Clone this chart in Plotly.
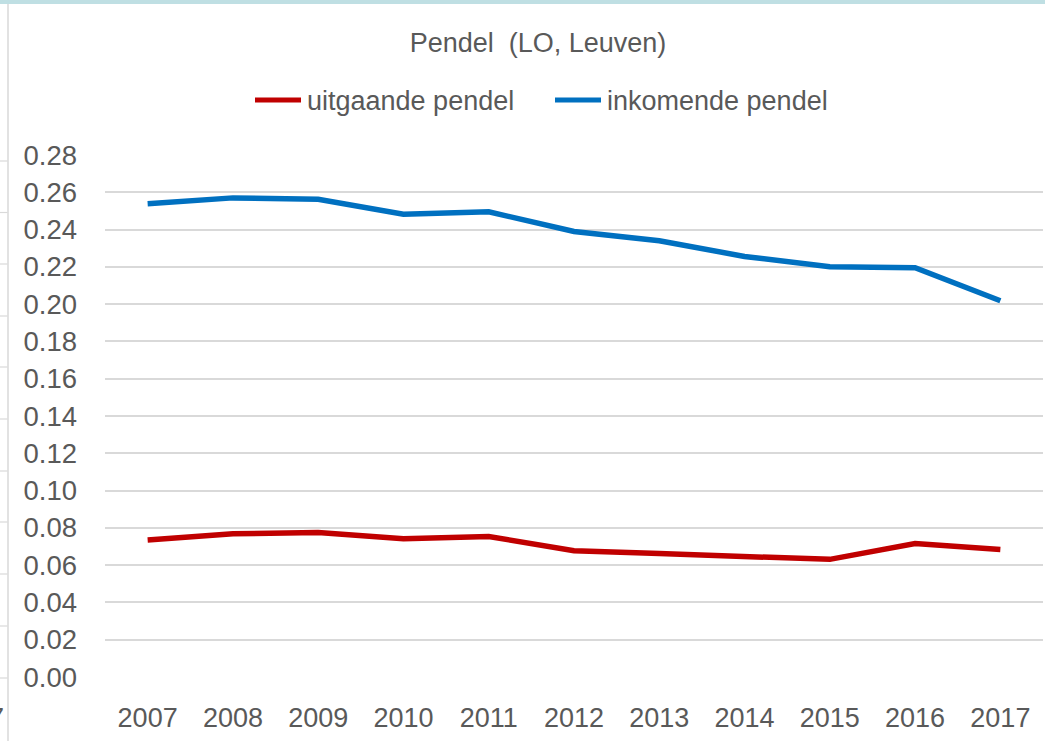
import plotly.graph_objects as go

years = ["2007", "2008", "2009", "2010", "2011", "2012", "2013", "2014", "2015", "2016", "2017"]
uitgaande = [0.0735, 0.0768, 0.0775, 0.0741, 0.0754, 0.0677, 0.0662, 0.0647, 0.0631, 0.0716, 0.0684]
inkomende = [0.2539, 0.2570, 0.2562, 0.2482, 0.2495, 0.2390, 0.2340, 0.2256, 0.2201, 0.2195, 0.2018]
y_ticks = [0.00, 0.02, 0.04, 0.06, 0.08, 0.10, 0.12, 0.14, 0.16, 0.18, 0.20, 0.22, 0.24, 0.26, 0.28]
series_names = ["uitgaande pendel", "inkomende pendel"]
series_colors = ["#C00000", "#0070C0"]

FONT = "Liberation Sans"
TXT = "#595959"
W, H = 1045, 741
L, R, T, B = 105, 2, 155, 64
PW, PH = W - L - R, H - T - B


def px_x(x):
    return (x - L) / PW


def px_y(y):
    return (H - B - y) / PH


fig = go.Figure()
for name, vals, col in zip(series_names, [uitgaande, inkomende], series_colors):
    fig.add_trace(go.Scatter(x=years, y=vals, mode="lines", name=name,
                             line=dict(color=col, width=5.5), showlegend=False))

shapes = [
    # light blue band at the top of the page
    dict(type="rect", xref="paper", yref="paper", x0=px_x(-5), x1=px_x(W + 5), y0=px_y(4), y1=px_y(-5),
         fillcolor="#BFDFE3", line=dict(width=0), layer="above"),
    # border on the left
    dict(type="line", xref="paper", yref="paper", x0=px_x(8), x1=px_x(8), y0=px_y(H + 5), y1=px_y(4),
         line=dict(color="#D9D9D9", width=1.5)),
]
# stubs of a neighbouring chart's gridlines at the far left edge
for py in [161, 212.5, 264, 316, 367, 419, 471, 522, 574, 626, 678]:
    shapes.append(dict(type="line", xref="paper", yref="paper", x0=px_x(-2), x1=px_x(7.5),
                       y0=px_y(py), y1=px_y(py), line=dict(color="#D9D9D9", width=1.2)))

annotations = []
# custom legend: line samples + labels
legend_items = [(255, 305), (555, 605)]
for (lx, tx), name, col in zip(legend_items, series_names, series_colors):
    shapes.append(dict(type="line", xref="paper", yref="paper", x0=px_x(lx), x1=px_x(lx + 46),
                       y0=px_y(100), y1=px_y(100), line=dict(color=col, width=5)))
    annotations.append(dict(text=name, xref="paper", yref="paper", x=px_x(tx), y=px_y(101),
                            xanchor="left", yanchor="middle", showarrow=False,
                            font=dict(family=FONT, size=27, color=TXT)))
# cut-off label of neighbouring chart
annotations.append(dict(text="7", xref="paper", yref="paper", x=px_x(6), y=px_y(718),
                        xanchor="right", yanchor="middle", showarrow=False,
                        font=dict(family=FONT, size=27, color=TXT)))

fig.update_layout(
    width=W, height=H,
    margin=dict(l=L, r=R, t=T, b=B),
    paper_bgcolor="white", plot_bgcolor="white",
    font=dict(family=FONT, color=TXT, size=27),
    title=dict(text="Pendel  (LO, Leuven)", x=538 / W, xanchor="center", y=1 - 43 / H, yanchor="middle",
               font=dict(family=FONT, size=27, color=TXT)),
    showlegend=False,
    xaxis=dict(type="category", range=[-0.5, 10.5], showgrid=False, showline=False, zeroline=False,
               ticks="", tickfont=dict(size=27, color=TXT), ticklabelstandoff=22, fixedrange=True),
    yaxis=dict(range=[0, 0.28], tickvals=y_ticks, tickformat=".2f", showgrid=True,
               gridcolor="#D9D9D9", gridwidth=1.5, zeroline=False, showline=False, ticks="",
               tickfont=dict(size=27.5, color=TXT), ticklabelstandoff=27),
    shapes=shapes,
    annotations=annotations,
)

fig.write_html("out.html", config={"displayModeBar": False},
               post_script="document.body.style.margin='0px';")
